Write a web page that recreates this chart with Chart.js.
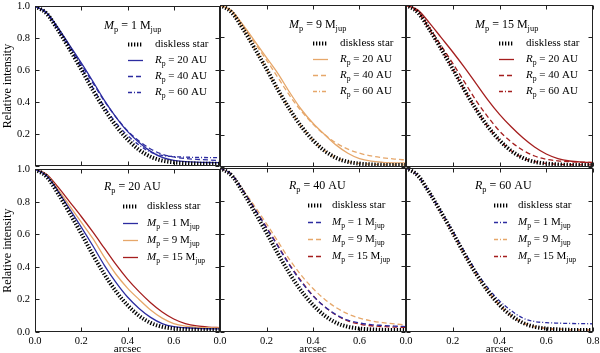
<!DOCTYPE html>
<html>
<head>
<meta charset="utf-8">
<script src="https://cdn.jsdelivr.net/npm/chart.js@4.4.1/dist/chart.umd.min.js"></script>
<style>
   html, body { margin: 0; padding: 0; background: #fff; width: 600px; height: 353px; overflow: hidden; }
   canvas { position: absolute; }
</style>
</head>
<body>
<script>
// separation from the star (arcsec)
const arcsec = [0, 0.05, 0.1, 0.15, 0.2, 0.25, 0.3, 0.35, 0.4, 0.45, 0.5, 0.55, 0.6, 0.65, 0.7, 0.75, 0.8];

const diskless = [1.0, 0.955, 0.85, 0.73, 0.605, 0.475, 0.355, 0.25, 0.165, 0.10, 0.056, 0.032, 0.021, 0.016, 0.013, 0.012, 0.012];

// M_p = 1 M_jup
const m1r20 = [1.0, 0.96, 0.865, 0.755, 0.645, 0.53, 0.41, 0.305, 0.215, 0.145, 0.09, 0.052, 0.033, 0.026, 0.022, 0.02, 0.019];
const m1r40 = [1.0, 0.96, 0.86, 0.75, 0.635, 0.52, 0.405, 0.305, 0.22, 0.155, 0.105, 0.072, 0.055, 0.045, 0.04, 0.036, 0.033];
const m1r60 = [1.0, 0.955, 0.85, 0.735, 0.615, 0.49, 0.37, 0.27, 0.19, 0.13, 0.085, 0.064, 0.057, 0.054, 0.052, 0.051, 0.05];
// M_p = 9 M_jup
const m9r20 = [1.0, 0.965, 0.875, 0.775, 0.675, 0.575, 0.46, 0.355, 0.27, 0.2, 0.135, 0.085, 0.052, 0.036, 0.029, 0.026, 0.025];
const m9r40 = [1.0, 0.96, 0.865, 0.765, 0.66, 0.55, 0.44, 0.345, 0.265, 0.2, 0.148, 0.11, 0.085, 0.068, 0.057, 0.049, 0.043];
const m9r60 = [1.0, 0.955, 0.85, 0.73, 0.605, 0.475, 0.355, 0.25, 0.166, 0.101, 0.057, 0.033, 0.022, 0.017, 0.014, 0.013, 0.013];
// M_p = 15 M_jup
const m15r20 = [1.0, 0.97, 0.89, 0.80, 0.71, 0.615, 0.515, 0.415, 0.325, 0.248, 0.18, 0.123, 0.08, 0.052, 0.037, 0.03, 0.027];
const m15r40 = [1.0, 0.96, 0.86, 0.75, 0.64, 0.525, 0.41, 0.31, 0.222, 0.155, 0.103, 0.068, 0.048, 0.038, 0.033, 0.03, 0.028];
const m15r60 = [1.0, 0.955, 0.85, 0.73, 0.605, 0.475, 0.355, 0.25, 0.165, 0.10, 0.056, 0.033, 0.022, 0.017, 0.014, 0.013, 0.013];

const masses = ['1', '9', '15'];
const radii = ['20', '40', '60'];
const xTicks = [0, 0.2, 0.4, 0.6, 0.8];
const yTicks = [0, 0.2, 0.4, 0.6, 0.8, 1.0];

const curves = [
   [m1r20, m1r40, m1r60],
   [m9r20, m9r40, m9r60],
   [m15r20, m15r40, m15r60]
];
const massColors = ['#2c2ca0', '#e6a76a', '#a51e1e'];
const radiusDash = [[], [5, 3], [4, 2, 1, 2]];

const FONT = '"Liberation Serif", "DejaVu Serif", serif';

// panel plot areas in page pixels
const colL = [35, 220, 406], colR = [220, 406, 593];
const rowT = [5, 168], rowB = [167, 332];
const PAD = 10;
const PAGE_BOTTOM = 356;

function pts(ys) {
   return arcsec.map((x, i) => ({ x, y: ys[i] }));
}

function drawRich(ctx, parts, x, y, size) {
   ctx.textBaseline = 'middle';
   ctx.textAlign = 'left';
   ctx.fillStyle = '#000';
   let cx = x;
   for (const [t, s] of parts) {
      const fs = s === 's' ? size * 0.7 : size;
      ctx.font = (s === 'i' ? 'italic ' : '') + fs + 'px ' + FONT;
      ctx.fillText(t, cx, y + (s === 's' ? size * 0.3 : 0));
      cx += ctx.measureText(t).width;
   }
}

const framePlugin = {
   id: 'frame',
   afterDraw(chart) {
      const { ctx, chartArea: a, scales: { x, y } } = chart;
      const l = Math.round(a.left) + 0.5, r = Math.round(a.right) - 0.5;
      const t = Math.round(a.top) + 0.5, b = Math.round(a.bottom) - 0.5;
      ctx.save();
      ctx.strokeStyle = '#222';
      ctx.lineWidth = 1;
      ctx.strokeRect(l, t, r - l, b - t);
      ctx.beginPath();
      xTicks.forEach(v => {
         const px = Math.round(x.getPixelForValue(v)) + 0.5;
         ctx.moveTo(px, b); ctx.lineTo(px, b - 4);
         ctx.moveTo(px, t); ctx.lineTo(px, t + 4);
      });
      yTicks.forEach(v => {
         const py = Math.round(y.getPixelForValue(v)) + 0.5;
         ctx.moveTo(l, py); ctx.lineTo(l + 4, py);
         ctx.moveTo(r, py); ctx.lineTo(r - 4, py);
      });
      ctx.stroke();
      ctx.restore();
   }
};

function makeLegend(info) {
   return {
      id: 'panelLegend',
      afterDraw(chart) {
         const { ctx, chartArea: a } = chart;
         ctx.save();
         drawRich(ctx, info.title, a.left + info.titleX, a.top + info.titleY, 12);
         info.items.forEach((item, i) => {
            const ds = chart.data.datasets[i];
            const y = Math.round(a.top + info.rows[i]) + 0.5;
            ctx.beginPath();
            ctx.strokeStyle = ds.borderColor;
            ctx.lineWidth = ds.borderWidth;
            ctx.setLineDash(ds.borderDash || []);
            ctx.moveTo(a.left + info.sampleX, y);
            ctx.lineTo(a.left + info.sampleX + 15, y);
            ctx.stroke();
            ctx.setLineDash([]);
            drawRich(ctx, item, a.left + info.textX, y, 11);
         });
         ctx.restore();
      }
   };
}

function makePanel(r, c) {
   const datasets = [{
      data: pts(diskless),
      borderColor: '#000',
      borderWidth: 4,
      borderDash: [1.3, 1.7],
      order: 0
   }];
   const items = [[['diskless star', '']]];
   let title;

   if (r === 0) {
      // one planet mass, three separations
      radii.forEach((rad, k) => {
         datasets.push({
            data: pts(curves[c][k]),
            borderColor: massColors[c],
            borderWidth: 1.3,
            borderDash: radiusDash[k],
            order: k + 1
         });
         items.push([['R', 'i'], ['p', 's'], [' = ' + rad + ' AU', '']]);
      });
      title = [['M', 'i'], ['p', 's'], [' = ' + masses[c] + ' ', ''], ['M', ''], ['jup', 's']];
   } else {
      // one separation, three planet masses
      masses.forEach((m, k) => {
         datasets.push({
            data: pts(curves[k][c]),
            borderColor: massColors[k],
            borderWidth: 1.3,
            borderDash: radiusDash[c],
            order: k + 1
         });
         items.push([['M', 'i'], ['p', 's'], [' = ' + m + ' ', ''], ['M', ''], ['jup', 's']]);
      });
      title = [['R', 'i'], ['p', 's'], [' = ' + radii[c] + ' AU', '']];
   }

   const legend = r === 0
      ? { title, items, titleX: 69, titleY: 20, rows: [38, 54, 70, 86], sampleX: 93, textX: 120 }
      : { title, items, titleX: 69, titleY: 18, rows: [37, 54, 71, 88], sampleX: 88, textX: 112 };

   const cl = c === 0 ? 0 : colL[c] - PAD;
   const ct = rowT[r] - PAD;
   const cr = colR[c] + PAD;
   const cb = r === 1 ? PAGE_BOTTOM : rowB[r] + PAD;

   const canvas = document.createElement('canvas');
   canvas.width = cr - cl;
   canvas.height = cb - ct;
   canvas.style.left = cl + 'px';
   canvas.style.top = ct + 'px';
   document.body.appendChild(canvas);

   new Chart(canvas, {
      type: 'line',
      data: { datasets },
      options: {
         responsive: false,
         animation: false,
         events: [],
         layout: {
            padding: { left: c === 0 ? 0 : PAD, right: PAD, top: PAD, bottom: r === 1 ? 0 : PAD }
         },
         plugins: { legend: { display: false }, tooltip: { enabled: false } },
         elements: {
            point: { radius: 0 },
            line: { cubicInterpolationMode: 'monotone', fill: false }
         },
         scales: {
            x: {
               type: 'linear',
               min: 0,
               max: 0.8,
               grid: { display: false, drawTicks: false },
               border: { display: false },
               ticks: {
                  display: r === 1,
                  stepSize: 0.2,
                  padding: 3,
                  maxRotation: 0,
                  autoSkip: false,
                  color: '#000',
                  font: { family: FONT, size: 10.5 },
                  // the next panel's 0.0 sits where this one's 0.8 would be
                  callback: v => (c < 2 && v > 0.79) ? '' : v.toFixed(1)
               },
               title: {
                  display: r === 1,
                  text: 'arcsec',
                  color: '#000',
                  font: { family: FONT, size: 11 },
                  padding: { top: 0, bottom: 0 }
               },
               afterFit: s => { s.height = r === 1 ? PAGE_BOTTOM - rowB[1] : 0; }
            },
            y: {
               min: 0,
               max: 1,
               grid: { display: false, drawTicks: false },
               border: { display: false },
               ticks: {
                  display: c === 0,
                  stepSize: 0.2,
                  padding: 5,
                  color: '#000',
                  font: { family: FONT, size: 10.5 },
                  callback: v => (r === 0 && v < 0.01) ? '' : v.toFixed(1)
               },
               title: {
                  display: c === 0,
                  text: 'Relative intensity',
                  color: '#000',
                  font: { family: FONT, size: 12 },
                  padding: { top: 1, bottom: 0 }
               },
               afterFit: s => { s.width = c === 0 ? colL[0] : 0; }
            }
         }
      },
      plugins: [framePlugin, makeLegend(legend)]
   });
}

for (let r = 0; r < 2; r++) {
   for (let c = 0; c < 3; c++) {
      makePanel(r, c);
   }
}
</script>
</body>
</html>
